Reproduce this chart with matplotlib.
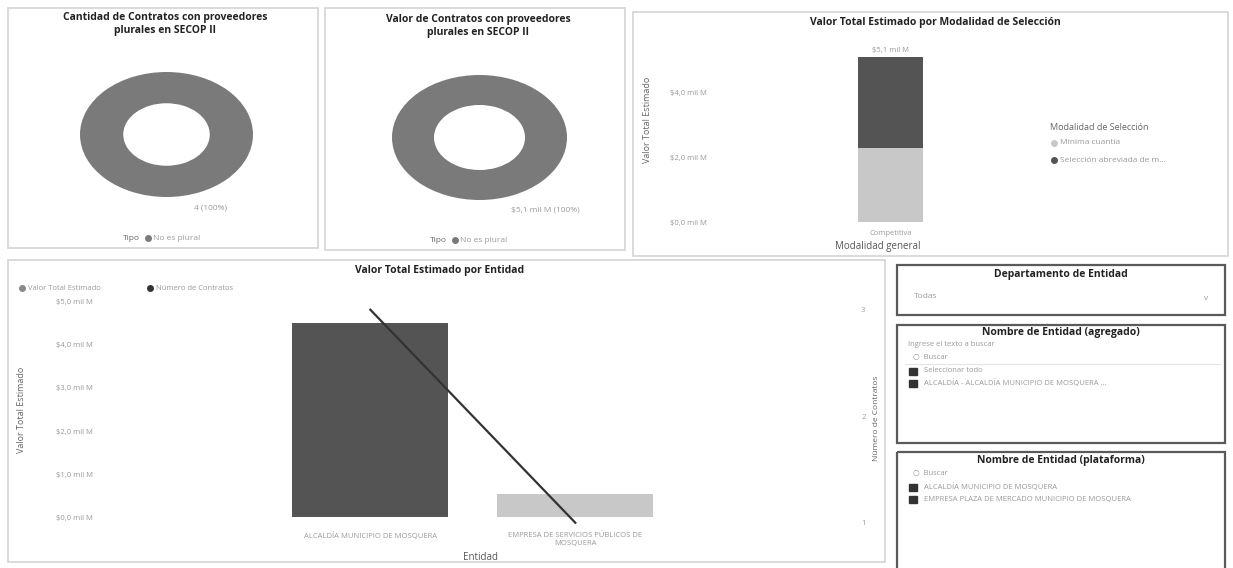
import matplotlib
matplotlib.use("Agg")
import matplotlib.pyplot as plt
from matplotlib.patches import Rectangle
from matplotlib.ticker import FuncFormatter

plt.rcParams['font.family'] = ['Open Sans', 'DejaVu Sans']

W, H = 1233, 568

# datos
tipo_labels = ["No es plural"]
n_contratos_tipo = [4]
valor_tipo = [5.1e9]

modalidades = ["Mínima cuantía", "Selección abreviada de m..."]
modalidad_general = ["Competitiva"]
valor_modalidad = [2.3e9, 2.8e9]

entidades = ["ALCALDÍA MUNICIPIO DE MOSQUERA",
             "EMPRESA DE SERVICIOS PÚBLICOS DE\nMOSQUERA"]
valor_entidad = [4.51e9, 0.53e9]
num_contratos_entidad = [3, 1]

slicer_agregado = ["Seleccionar todo", "ALCALDÍA - ALCALDÍA MUNICIPIO DE MOSQUERA ..."]
slicer_plataforma = ["ALCALDÍA MUNICIPIO DE MOSQUERA",
                     "EMPRESA PLAZA DE MERCADO MUNICIPIO DE MOSQUERA"]

DARK = "#545454"
LIGHT = "#c8c8c8"
DONUT = "#7a7a7a"
TXT = "#9a9a9a"
TITLE = "#222222"


def mil_m(v, pos=None):
    return "$" + f"{v / 1e9:.1f}".replace(".", ",") + " mil M"


def box(x0, y0, x1, y1):
    return [x0 / W, 1 - y1 / H, (x1 - x0) / W, (y1 - y0) / H]


fig = plt.figure(figsize=(W / 100, H / 100), dpi=100)
bg = fig.add_axes([0, 0, 1, 1])
bg.set_xlim(0, W)
bg.set_ylim(H, 0)
bg.axis("off")

# marcos de los paneles
for (x0, y0, x1, y1) in [(8, 8, 318, 248), (325, 8, 625, 250),
                         (633, 12, 1228, 256), (8, 260, 885, 562)]:
    bg.add_patch(Rectangle((x0, y0), x1 - x0, y1 - y0, fill=False,
                           ec="#d4d4d4", lw=1.2))
for (x0, y0, x1, y1) in [(897, 265, 1225, 315), (897, 325, 1225, 443),
                         (897, 452, 1225, 572)]:
    bg.add_patch(Rectangle((x0, y0), x1 - x0, y1 - y0, fill=False,
                           ec="#5a5a5a", lw=1.6))

# donas
bg.text(165, 24, "Cantidad de Contratos con proveedores\nplurales en SECOP II",
        ha="center", va="center", fontsize=7.5, fontweight="bold", color=TITLE,
        linespacing=1.3)
ax1 = fig.add_axes(box(80, 72, 253, 197))
ax1.pie(n_contratos_tipo, colors=[DONUT], wedgeprops=dict(width=0.5), startangle=90)
ax1.set_aspect("auto")
ax1.set_xlim(-1, 1)
ax1.set_ylim(-1, 1)
bg.text(210, 208, f"{n_contratos_tipo[0]} (100%)", ha="center", va="center",
        fontsize=6, color=TXT)
bg.text(140, 238, "Tipo", ha="right", va="center", fontsize=6, color="#666666")
bg.plot([148], [238], "o", ms=4, color=DONUT)
bg.text(153, 238, tipo_labels[0], ha="left", va="center", fontsize=6, color=TXT)

bg.text(478, 26, "Valor de Contratos con proveedores\nplurales en SECOP II",
        ha="center", va="center", fontsize=7.5, fontweight="bold", color=TITLE,
        linespacing=1.3)
ax2 = fig.add_axes(box(392, 75, 567, 200))
ax2.pie(valor_tipo, colors=[DONUT], wedgeprops=dict(width=0.48), startangle=90)
ax2.set_aspect("auto")
ax2.set_xlim(-1, 1)
ax2.set_ylim(-1, 1)
bg.text(545, 210, "$5,1 mil M (100%)", ha="center", va="center",
        fontsize=6, color=TXT)
bg.text(447, 240, "Tipo", ha="right", va="center", fontsize=6, color="#666666")
bg.plot([455], [240], "o", ms=4, color=DONUT)
bg.text(460, 240, tipo_labels[0], ha="left", va="center", fontsize=6, color=TXT)

# modalidad de selección
bg.text(935, 23, "Valor Total Estimado por Modalidad de Selección", ha="center",
        va="center", fontsize=7.5, fontweight="bold", color=TITLE)
ax3 = fig.add_axes(box(715, 40, 1040, 225))
ax3.bar([0], [valor_modalidad[0]], width=1.0, color=LIGHT)
ax3.bar([0], [valor_modalidad[1]], width=1.0, bottom=[valor_modalidad[0]], color=DARK)
total = sum(valor_modalidad)
ax3.text(0, total * 1.02, mil_m(total), ha="center", va="bottom", fontsize=5.5, color=TXT)
ax3.set_xlim(-2.7, 2.3)
ax3.set_ylim(-0.09e9, 5.64e9)
ax3.set_yticks([0, 2e9, 4e9])
ax3.yaxis.set_major_formatter(FuncFormatter(mil_m))
ax3.set_xticks([0])
ax3.set_xticklabels(modalidad_general)
ax3.tick_params(length=0, labelsize=5.5, labelcolor=TXT)
ax3.tick_params(axis="y", pad=6)
for s in ax3.spines.values():
    s.set_visible(False)
ax3.set_xlabel("Modalidad general", fontsize=7, color="#555555", labelpad=3)
bg.text(648, 120, "Valor Total Estimado", rotation=90, ha="center", va="center",
        fontsize=6.5, color="#666666")
bg.text(1050, 128, "Modalidad de Selección", ha="left", va="center",
        fontsize=6.5, color="#666666")
for i, (lab, c) in enumerate(zip(modalidades, [LIGHT, DARK])):
    yy = 143 + i * 17
    bg.plot([1054], [yy], "o", ms=4, color=c)
    bg.text(1060, yy, lab, ha="left", va="center", fontsize=6, color=TXT)

# valor por entidad
bg.text(440, 270, "Valor Total Estimado por Entidad", ha="center", va="center",
        fontsize=7.5, fontweight="bold", color=TITLE)
bg.plot([22], [288], "o", ms=4, color="#8a8a8a")
bg.text(28, 288, "Valor Total Estimado", ha="left", va="center", fontsize=5.5, color=TXT)
bg.plot([150], [288], "o", ms=4, color="#333333")
bg.text(156, 288, "Número de Contratos", ha="left", va="center", fontsize=5.5, color=TXT)

ax4 = fig.add_axes(box(110, 298, 850, 527))
x = list(range(len(entidades)))
ax4.bar(x, valor_entidad, width=0.76, color=[DARK, LIGHT])
ax4.set_xlim(-1.27, 2.34)
ax4.set_ylim(-0.23e9, 5.09e9)
ax4.set_yticks([0, 1e9, 2e9, 3e9, 4e9, 5e9])
ax4.yaxis.set_major_formatter(FuncFormatter(mil_m))
ax4.set_xticks(x)
ax4.set_xticklabels(entidades)
ax4.tick_params(length=0, labelsize=5.5, labelcolor=TXT)
ax4.tick_params(axis="y", pad=12)
for s in ax4.spines.values():
    s.set_visible(False)
ax4.set_xlabel("Entidad", fontsize=7, color="#555555", labelpad=4)
bg.text(22, 410, "Valor Total Estimado", rotation=90, ha="center", va="center",
        fontsize=6.5, color="#666666")

ax4b = ax4.twinx()
ax4b.plot(x, num_contratos_entidad, color="#333333", lw=1.6)
ax4b.set_ylim(0.96, 3.11)
ax4b.set_yticks([1, 2, 3])
ax4b.tick_params(length=0, labelsize=5.5, labelcolor=TXT, pad=8)
for s in ax4b.spines.values():
    s.set_visible(False)
bg.text(876, 418, "Número de Contratos", rotation=90, ha="center", va="center",
        fontsize=6, color="#666666")

# segmentadores
bg.text(1061, 274, "Departamento de Entidad", ha="center", va="center",
        fontsize=7.5, fontweight="bold", color=TITLE)
bg.text(914, 296, "Todas", ha="left", va="center", fontsize=6, color=TXT)
bg.text(1206, 298, "v", ha="center", va="center", fontsize=6, color=TXT)

bg.text(1061, 333, "Nombre de Entidad (agregado)", ha="center", va="center",
        fontsize=7.5, fontweight="bold", color=TITLE)
bg.text(908, 345, "Ingrese el texto a buscar", ha="left", va="center",
        fontsize=5.5, color=TXT)
bg.text(913, 357, "○  Buscar", ha="left", va="center", fontsize=5.5, color=TXT)
bg.plot([905, 1220], [364, 364], color="#e4e4e4", lw=0.8)
for i, lab in enumerate(slicer_agregado):
    yy = 371 + i * 12.5
    bg.add_patch(Rectangle((909, yy - 3.5), 8, 7, color="#333333"))
    bg.text(924, yy, lab, ha="left", va="center", fontsize=5.5, color=TXT)

bg.text(1061, 461, "Nombre de Entidad (plataforma)", ha="center", va="center",
        fontsize=7.5, fontweight="bold", color=TITLE)
bg.text(913, 473, "○  Buscar", ha="left", va="center", fontsize=5.5, color=TXT)
for i, lab in enumerate(slicer_plataforma):
    yy = 487 + i * 12.5
    bg.add_patch(Rectangle((909, yy - 3.5), 8, 7, color="#333333"))
    bg.text(924, yy, lab, ha="left", va="center", fontsize=5.5, color=TXT)

fig.savefig("out.png", dpi=100)
